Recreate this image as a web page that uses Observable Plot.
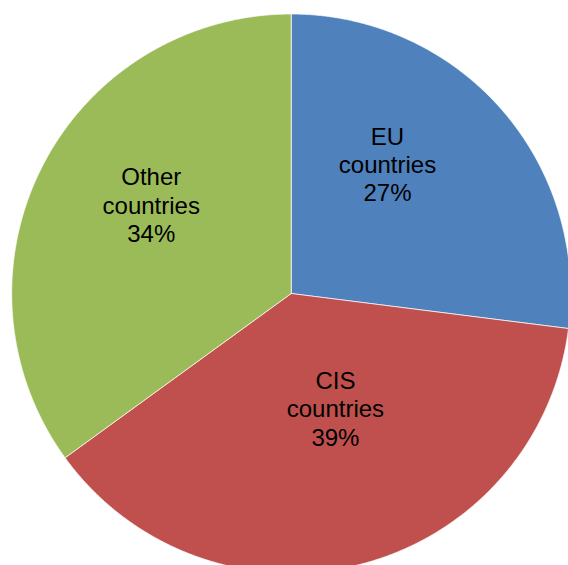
<!DOCTYPE html>
<html><head><meta charset="utf-8">
<script src="https://cdn.jsdelivr.net/npm/d3@7"></script>
<script src="https://cdn.jsdelivr.net/npm/@observablehq/plot@0.6"></script>
<style>html,body{margin:0;padding:0;background:#fff;}</style>
</head><body><div id="chart"></div>
<script>
// Data
const categories = ["EU countries", "CIS countries", "Other countries"];
const shares = [27, 38, 35];              // slice sizes as drawn
const labelTexts = ["EU\ncountries\n27%", "CIS\ncountries\n39%", "Other\ncountries\n34%"];
const colors = ["#4F81BD", "#C0504D", "#9BBB59"];

// Build slice outlines (unit circle, 0 at 12 o'clock, clockwise) via d3.pie
const arcs = d3.pie().sort(null).value(d => d)(shares);
const step = Math.PI / 720;
const outline = [];
arcs.forEach((a, i) => {
  const name = categories[i];
  outline.push({name, u: 0, v: 0});
  const n = Math.max(2, Math.ceil((a.endAngle - a.startAngle) / step));
  for (let k = 0; k <= n; k++) {
    const t = a.startAngle + (a.endAngle - a.startAngle) * k / n;
    outline.push({name, u: Math.sin(t), v: Math.cos(t)});
  }
  outline.push({name, u: 0, v: 0});
});

const labelRadius = 0.55;
const labelData = arcs.map((a, i) => {
  const m = (a.startAngle + a.endAngle) / 2;
  return {name: categories[i], text: labelTexts[i], u: labelRadius * Math.sin(m), v: labelRadius * Math.cos(m)};
});
const nudges = [[-19, -28], [6, -34], [-3, -19]];

const textOpts = {x: "u", y: "v", text: "text", fontSize: 24, lineHeight: 1.18, textAnchor: "middle", lineAnchor: "middle", fill: "black"};

const chart = Plot.plot({
  width: 568,
  height: 565,
  margin: 0,
  x: {domain: [-1.04007, 0.99213], axis: null},
  y: {domain: [-0.97317, 1.04830], axis: null},
  color: {domain: categories, range: colors},
  style: {fontFamily: "'Liberation Sans', Arial, sans-serif", background: "white"},
  marks: [
    Plot.line(outline, {x: "u", y: "v", z: "name", fill: "name", stroke: "white", strokeWidth: 1, strokeOpacity: 0.7, curve: "linear", clip: true}),
    ...labelData.map((d, i) => Plot.text([d], {...textOpts, dx: nudges[i][0], dy: nudges[i][1]}))
  ]
});
document.getElementById("chart").appendChild(chart);
</script>
</body></html>
